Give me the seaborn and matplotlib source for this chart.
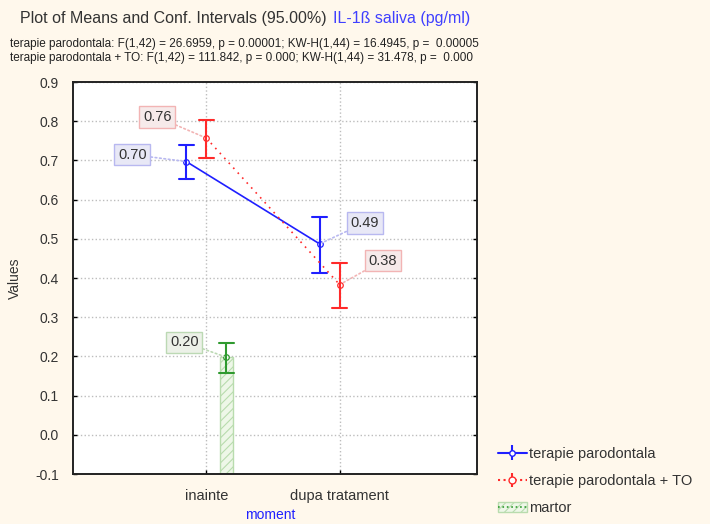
import pandas as pd
import numpy as np
import matplotlib
matplotlib.use("Agg")
import matplotlib.pyplot as plt
import seaborn as sns
from matplotlib.lines import Line2D
from matplotlib.patches import Patch

# data (means and 95% CI limits)
moments = ["inainte", "dupa tratament"]
groups = ["terapie parodontala", "terapie parodontala + TO", "martor"]

tp_mean = [0.697, 0.487]
tp_lo = [0.652, 0.413]
tp_hi = [0.739, 0.556]

to_mean = [0.757, 0.383]
to_lo = [0.706, 0.323]
to_hi = [0.803, 0.438]

martor_mean = [0.198]
martor_lo = [0.158]
martor_hi = [0.234]

title_black = "Plot of Means and Conf. Intervals (95.00%)"
title_blue = "IL-1ß saliva (pg/ml)"
stats_lines = [
    "terapie parodontala: F(1,42) = 26.6959, p = 0.00001; KW-H(1,44) = 16.4945, p =  0.00005",
    "terapie parodontala + TO: F(1,42) = 111.842, p = 0.000; KW-H(1,44) = 31.478, p =  0.000",
]

# long table: lo / mean / hi per cell -> median = mean, min/max = CI
rows = []
for g, means, los, his in [(groups[0], tp_mean, tp_lo, tp_hi),
                           (groups[1], to_mean, to_lo, to_hi),
                           (groups[2], martor_mean, martor_lo, martor_hi)]:
    for i in range(len(means)):
        for v in (los[i], means[i], his[i]):
            rows.append({"moment": moments[i], "group": g, "value": v})
df = pd.DataFrame(rows)

colors = {groups[0]: "#1f1fff", groups[1]: "#ff2a2a", groups[2]: "#2f9a2f"}
box_face = {groups[0]: "#e8e8f6", groups[1]: "#f6eaea", groups[2]: "#ecf1e8"}
box_edge = {groups[0]: "#b8b8f0", groups[1]: "#f2b4b4", groups[2]: "#bcd9b4"}
dodge = 0.3
offsets = np.linspace(0, dodge, len(groups)) - dodge / 2

sns.set_style("white")
plt.rcParams["font.family"] = ["Liberation Sans", "DejaVu Sans"]
plt.rcParams["hatch.linewidth"] = 0.8

fig = plt.figure(figsize=(7.1, 5.24), dpi=100, facecolor="#fff8ec")
ax = fig.add_axes([0.1028, 0.0954, 0.569, 0.7481])
ax.set_facecolor("white")

# martor bar (hatched) under its point
ax.bar(0 + offsets[2], martor_mean[0] + 0.1, bottom=-0.1, width=0.1,
       facecolor="#eef7e8", edgecolor="#b9dcae", hatch="////", linewidth=1, zorder=1)

sns.pointplot(data=df, x="moment", y="value", hue="group", order=moments,
              hue_order=groups, estimator="median",
              errorbar=lambda v: (v.min(), v.max()),
              dodge=dodge, palette=colors, markers=["o", "o", "o"],
              linestyles=["-", (0, (1, 3)), ":"], capsize=0.11,
              err_kws={"linewidth": 1.5}, markerfacecolor="white",
              markersize=4, linewidth=1.2, legend=False, ax=ax, zorder=3)

ax.set_xlim(-1.0, 2.03)
ax.set_ylim(-0.1, 0.9)
ax.set_yticks(np.arange(-0.1, 0.91, 0.1))
ax.set_yticklabels([f"{t:.1f}" for t in np.arange(-0.1, 0.91, 0.1)])
ax.set_xticks([0, 1])
ax.set_xticklabels(moments)
ax.grid(True, linestyle=":", color="#bdbdbd", linewidth=1)
ax.set_axisbelow(True)
ax.tick_params(axis="both", direction="in", length=3, width=1, colors="black",
               labelsize=10, labelcolor="#333333", right=True, left=True, bottom=True)
ax.tick_params(axis="y", pad=10)
ax.tick_params(axis="x", pad=11, labelsize=10.5)
for s in ax.spines.values():
    s.set_color("#222222")
    s.set_linewidth(1.4)
ax.set_xlabel("")
ax.set_ylabel("Values", fontsize=10, color="#333333", labelpad=10)

# value labels
labels = [
    (groups[0], 0, tp_mean[0], (-54, 7)),
    (groups[1], 0, to_mean[0], (-49, 21)),
    (groups[0], 1, tp_mean[1], (45, 21)),
    (groups[1], 1, to_mean[1], (43, 24)),
    (groups[2], 0, martor_mean[0], (-42, 15)),
]
for g, xi, v, off in labels:
    gi = groups.index(g)
    ax.annotate(f"{v:.2f}", xy=(xi + offsets[gi], v), xytext=off,
                textcoords="offset pixels", ha="center", va="center",
                fontsize=10.5, color="#333333", zorder=5,
                bbox=dict(boxstyle="square,pad=0.25", fc=box_face[g], ec=box_edge[g], lw=1),
                arrowprops=dict(arrowstyle="-", linestyle=":", color=box_edge[g],
                                lw=1.2, shrinkA=0, shrinkB=2))

# titles
fig.text(327 / 710, 1 - 18 / 524, title_black, ha="right", va="center",
         fontsize=11.5, color="#333333")
fig.text(333 / 710, 1 - 18 / 524, title_blue, ha="left", va="center",
         fontsize=11.5, color="#4040ff")
fig.text(10 / 710, 1 - 44 / 524, stats_lines[0], ha="left", va="center",
         fontsize=8.5, color="#222222")
fig.text(10 / 710, 1 - 58 / 524, stats_lines[1], ha="left", va="center",
         fontsize=8.5, color="#222222")
fig.text(270 / 710, 2 / 524, "moment", ha="center", va="bottom",
         fontsize=10, color="#2020ff")

# legend: errorbar-style glyphs
eb_tp = ax.errorbar([], [], yerr=[], color=colors[groups[0]], lw=1.5, capsize=5,
                    marker="o", markersize=4, markerfacecolor="white")
eb_to = ax.errorbar([], [], yerr=[], color=colors[groups[1]], lw=1.5, capsize=5,
                    marker="o", markersize=5, markerfacecolor="white", ls=":")
handles = [
    eb_tp,
    eb_to,
    (Patch(facecolor="#eef7e8", edgecolor="#b9dcae", hatch="////"),
     Line2D([], [], color=colors[groups[2]], ls=":", lw=1.2)),
]
fig.legend(handles, groups, loc="upper left", bbox_to_anchor=(492 / 710, 1 - 441 / 524),
           frameon=False, fontsize=10.5, handlelength=2.0, handletextpad=0.15,
           labelspacing=0.9, borderaxespad=0, labelcolor="#333333")

fig.savefig("out.png", dpi=100, facecolor=fig.get_facecolor())
